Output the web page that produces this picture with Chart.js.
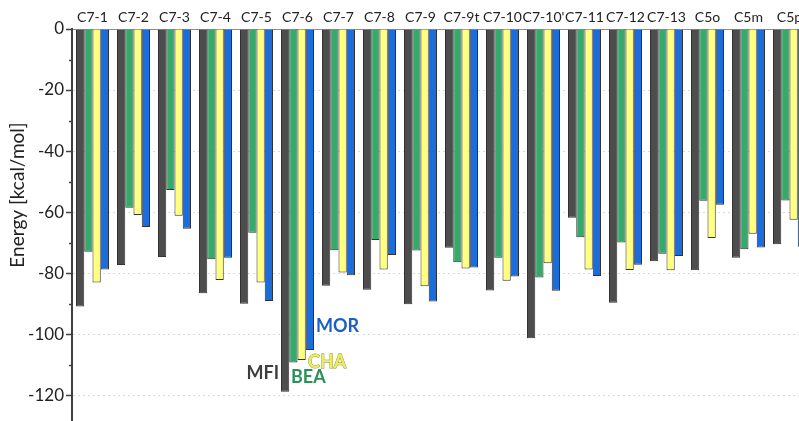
<!DOCTYPE html>
<html>
<head>
<meta charset="utf-8">
<script src="https://cdn.jsdelivr.net/npm/chart.js@4.4.1/dist/chart.umd.min.js"></script>
<style>
  html, body { margin: 0; padding: 0; overflow: hidden; background: #fff; width: 799px; height: 421px; }
  #wrap { position: absolute; left: 0; top: 0; width: 810px; height: 421px; }
</style>
</head>
<body>
<div id="wrap"><canvas id="c" width="810" height="421"></canvas></div>
<script>
// Adsorption energies per configuration and zeolite framework (kcal/mol)
const categories = ['C7-1', 'C7-2', 'C7-3', 'C7-4', 'C7-5', 'C7-6', 'C7-7', 'C7-8', 'C7-9',
  'C7-9t', 'C7-10', "C7-10'", 'C7-11', 'C7-12', 'C7-13', 'C5o', 'C5m', 'C5p'];
const mfi = [-91.0, -77.4, -74.7, -86.6, -90.1, -118.9, -84.2, -85.5, -90.2,
  -71.7, -85.7, -101.4, -61.9, -89.7, -76.1, -79.1, -75.0, -70.6];
const bea = [-73.0, -58.6, -52.8, -75.5, -66.8, -109.3, -72.5, -69.2, -72.6,
  -76.5, -75.0, -81.5, -68.3, -70.0, -73.7, -56.3, -72.2, -56.2];
const cha = [-83.1, -61.0, -61.2, -82.3, -83.1, -108.5, -79.8, -78.8, -84.3,
  -78.5, -82.5, -76.8, -78.8, -79.0, -79.1, -68.5, -67.1, -62.5];
const mor = [-78.8, -64.9, -65.5, -75.0, -89.2, -105.2, -80.7, -74.1, -89.3,
  -78.2, -81.1, -85.8, -81.0, -77.3, -74.4, -57.6, -71.6, -71.4];
const majorTicks = [0, -20, -40, -60, -80, -100, -120];
const minorTicks = [-10, -30, -50, -70, -90, -110];
const seriesNames = ['MFI', 'BEA', 'CHA', 'MOR'];

const fills = ['#4d4d4d', '#35aa6b', '#ffff80', '#1b6ddc'];
const labelInk = ['#3d3d3d', '#2a9158', '#eded5a', '#1a5fc4'];
const FONT = 'Lato, "Open Sans", sans-serif';

// In-plot framework labels placed next to the C7-6 group
const frameworkTags = [
  { text: 'MFI', dx: -18.5, value: -112.8, align: 'right', color: 0 },
  { text: 'BEA', dx: -6.5, value: -114.1, align: 'left', color: 1 },
  { text: 'CHA', dx: 10.5, value: -109.2, align: 'left', color: 2 },
  { text: 'MOR', dx: 18.5, value: -97.4, align: 'left', color: 3 }
];

const axisMarks = {
  id: 'axisMarks',
  afterDraw(chart) {
    const { ctx } = chart;
    const y = chart.scales.y;
    const x0 = y.right;
    ctx.save();
    ctx.strokeStyle = '#404040';
    ctx.lineWidth = 1.5;
    majorTicks.forEach(v => {
      const py = Math.round(y.getPixelForValue(v)) + 0.5;
      ctx.beginPath(); ctx.moveTo(x0 - 6, py); ctx.lineTo(x0, py); ctx.stroke();
    });
    minorTicks.forEach(v => {
      const py = Math.round(y.getPixelForValue(v)) + 0.5;
      ctx.beginPath(); ctx.moveTo(x0 - 3, py); ctx.lineTo(x0, py); ctx.stroke();
    });
    // rotated axis title
    ctx.fillStyle = '#222';
    ctx.font = '19px ' + FONT;
    ctx.textAlign = 'center';
    ctx.textBaseline = 'middle';
    ctx.translate(18, 195);
    ctx.rotate(-Math.PI / 2);
    ctx.fillText('Energy [kcal/mol]', 0, 0);
    ctx.restore();
  }
};

const tagPlugin = {
  id: 'tags',
  afterDatasetsDraw(chart) {
    const { ctx } = chart;
    const xs = chart.scales.x, ys = chart.scales.y;
    const cx = xs.getPixelForValue(categories.indexOf('C7-6'));
    ctx.save();
    ctx.font = 'bold 18px ' + FONT;
    ctx.textBaseline = 'middle';
    frameworkTags.forEach(t => {
      ctx.textAlign = t.align;
      const px = cx + t.dx, py = ys.getPixelForValue(t.value);
      if (t.color === 2) {
        ctx.lineWidth = 0.8;
        ctx.strokeStyle = '#8a8a40';
        ctx.strokeText(t.text, px, py);
      }
      ctx.fillStyle = labelInk[t.color];
      ctx.fillText(t.text, px, py);
    });
    ctx.restore();
  }
};

const values = [mfi, bea, cha, mor];

new Chart(document.getElementById('c'), {
  type: 'bar',
  data: {
    labels: categories,
    datasets: values.map((d, i) => ({
      label: seriesNames[i],
      data: d,
      backgroundColor: fills[i],
      borderColor: '#333333',
      borderWidth: 1,
      categoryPercentage: 0.805,
      barPercentage: 1.0
    }))
  },
  options: {
    responsive: false,
    animation: false,
    layout: { padding: 0 },
    plugins: { legend: { display: false }, tooltip: { enabled: false } },
    scales: {
      x: {
        position: 'top',
        grid: { display: false, drawTicks: false },
        border: { display: true, color: '#8c8c8c', width: 1 },
        ticks: { color: '#222', font: { family: FONT, size: 14 }, padding: 3, maxRotation: 0, autoSkip: false },
        afterFit(s) { s.height = 29; }
      },
      y: {
        min: -128.5,
        max: 0,
        afterBuildTicks(s) {
          s.ticks = majorTicks.map(v => ({ value: v }));
        },
        grid: {
          drawTicks: false,
          color: c => (c.tick && c.tick.value !== 0) ? '#dadada' : 'rgba(0,0,0,0)',
          lineWidth: 1
        },
        border: { display: true, color: '#404040', width: 2, dash: [2, 3] },
        ticks: { color: '#222', font: { family: FONT, size: 17 }, padding: 8 },
        afterFit(s) { s.width = 72; s.paddingTop = 0; s.paddingBottom = 0; }
      }
    }
  },
  plugins: [axisMarks, tagPlugin]
});
</script>
</body>
</html>
